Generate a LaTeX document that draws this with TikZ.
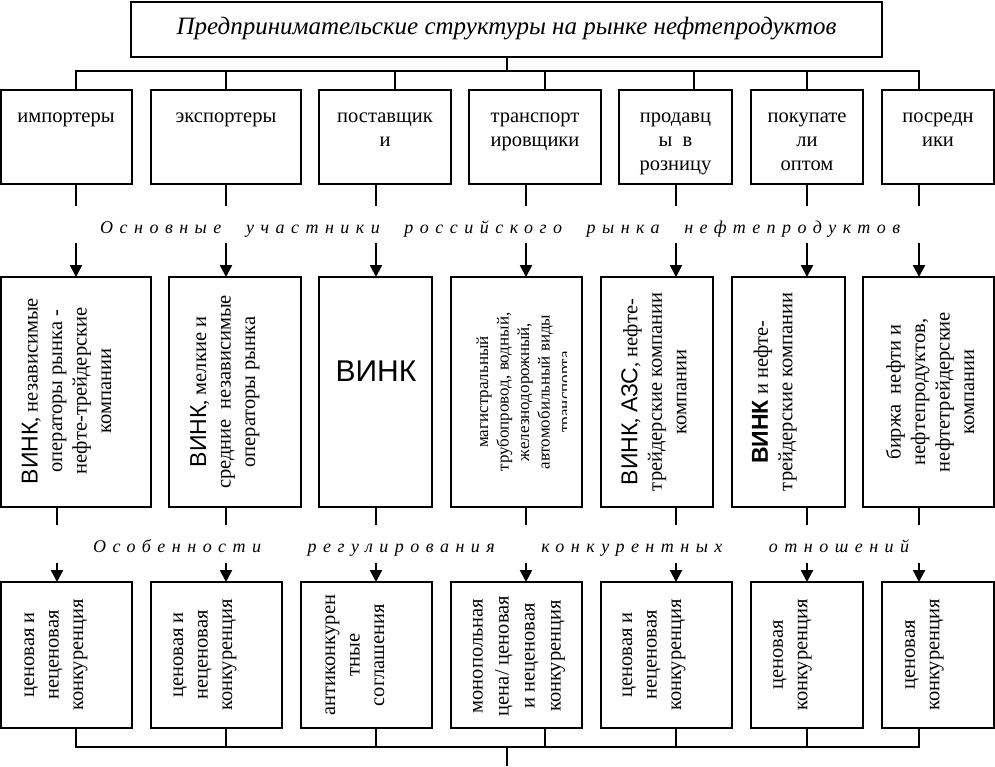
\documentclass[tikz,border=0pt]{standalone}
\usepackage{fontspec}
\setmainfont{Liberation Serif}
\newfontfamily\arialf{Liberation Sans}
\newfontfamily\spacedf{Liberation Serif}[LetterSpace=36]
\usetikzlibrary{arrows.meta}
\tikzset{
  box/.style={draw, line width=2.6pt, inner sep=0pt, outer sep=0pt},
  conn/.style={line width=2.5pt},
  arr/.style={conn, -{Triangle[width=12pt,length=12pt]}},
  txt/.style={inner sep=0pt, align=center, font=\fontsize{20.5}{24.5}\selectfont},
  toptxt/.style={inner sep=0pt, align=center, anchor=north, font=\fontsize{20.5}{24}\selectfont},
  rtxt/.style={txt, rotate=90},
  lbl/.style={inner sep=0pt, anchor=base west, font=\fontsize{18}{22}\selectfont\spacedf\itshape},
}
\newcommand{\vinkw}{{\arialf\fontsize{23}{24.5}\selectfont ВИНК}}
\newcommand{\tst}{\rule{0pt}{15pt}}
\begin{document}
\begin{tikzpicture}[x=1pt,y=-1pt]
\useasboundingbox (0,0) rectangle (995,766);
% title
\node[box, minimum width=751, minimum height=55] (title) at (506.5,29.5) {};
\node[inner sep=0pt, anchor=base, font=\fontsize{25}{29}\selectfont\itshape] (titletext) at (506.5,34) {Предпринимательские структуры на рынке нефтепродуктов};
% row 1
\node[box, minimum width=131, minimum height=94] (r1b1) at (66.5,137) {};
\node[box, minimum width=150, minimum height=94] (r1b2) at (226,137) {};
\node[box, minimum width=132, minimum height=94] (r1b3) at (385,137) {};
\node[box, minimum width=132, minimum height=94] (r1b4) at (535,137) {};
\node[box, minimum width=113, minimum height=94] (r1b5) at (675.5,137) {};
\node[box, minimum width=112, minimum height=94] (r1b6) at (807,137) {};
\node[box, minimum width=112, minimum height=94] (r1b7) at (938,137) {};
\node[toptxt] (r1t1) at (66,107) {\tst импортеры};
\node[toptxt] (r1t2) at (226,107) {\tst экспортеры};
\node[toptxt] (r1t3) at (385,107) {\tst поставщик\\и};
\node[toptxt] (r1t4) at (535,107) {\tst транспорт\\ировщики};
\node[toptxt] (r1t5) at (675.5,107) {\tst продавц\\ы\ \ в\\розницу};
\node[toptxt] (r1t6) at (807,107) {\tst покупате\\ли\\оптом};
\node[toptxt] (r1t7) at (938,107) {\tst посредн\\ики};
% row 2
\node[box, minimum width=150, minimum height=230] (r2b1) at (76,392) {};
\node[box, minimum width=132, minimum height=230] (r2b2) at (235,392) {};
\node[box, minimum width=113, minimum height=230] (r2b3) at (375.5,392) {};
\node[box, minimum width=131, minimum height=230] (r2b4) at (516.5,392) {};
\node[box, minimum width=112, minimum height=230] (r2b5) at (657,392) {};
\node[box, minimum width=113, minimum height=230] (r2b6) at (788.5,392) {};
\node[box, minimum width=131, minimum height=230] (r2b7) at (928.5,392) {};
\node[rtxt] (r2t1) at (66.5,391) {\vinkw, независимые\\операторы рынка -\\нефте-трейдерские\\компании};
\node[rtxt] (r2t2) at (225,392) {\vinkw, мелкие и\\средние\ \ независимые\\операторы рынка};
\node[inner sep=0pt, font=\arialf\fontsize{30}{34}\selectfont] (r2t3) at (376,371) {ВИНК};
\begin{scope}
\clip (451,277) rectangle (566,507);
\node[rtxt, font=\fontsize{17}{20.5}\selectfont] (r2t4) at (525,392) {магистральный\\трубопровод, водный,\\железнодорожный,\\автомобильный виды\\транспорта};
\end{scope}
\node[rtxt] (r2t5) at (654,392) {\vinkw, {\arialf\fontsize{23}{24.5}\selectfont АЗС}, нефте-\\трейдерские компании\\компании};
\node[rtxt] (r2t6) at (774.5,392) {{\arialf\bfseries\fontsize{23}{24.5}\selectfont ВИНК} и нефте-\\трейдерские компании};
\node[rtxt] (r2t7) at (930,392) {биржа\ \ нефти и\\нефтепродуктов,\\нефтетрейдерские\\компании};
% row 3
\node[box, minimum width=131, minimum height=146] (r3b1) at (66.5,655) {};
\node[box, minimum width=131, minimum height=146] (r3b2) at (216.5,655) {};
\node[box, minimum width=131, minimum height=146] (r3b3) at (366.5,655) {};
\node[box, minimum width=131, minimum height=146] (r3b4) at (516.5,655) {};
\node[box, minimum width=131, minimum height=146] (r3b5) at (666.5,655) {};
\node[box, minimum width=112, minimum height=146] (r3b6) at (807,655) {};
\node[box, minimum width=112, minimum height=146] (r3b7) at (938,655) {};
\node[rtxt] (r3t1) at (56,655) {ценовая и\\неценовая\\конкуренция};
\node[rtxt] (r3t2) at (205,655) {ценовая и\\неценовая\\конкуренция};
\node[rtxt] (r3t3) at (355,655) {антиконкурен\\тные\\соглашения};
\node[rtxt, font=\fontsize{20.5}{26}\selectfont] (r3t4) at (519,656) {монопольная\\цена/ ценовая\\и неценовая\\конкуренция};
\node[rtxt] (r3t5) at (654,655) {ценовая и\\неценовая\\конкуренция};
\node[rtxt] (r3t6) at (792.5,655) {ценовая\\конкуренция};
\node[rtxt] (r3t7) at (924.5,655) {ценовая\\конкуренция};
% labels
\node[lbl] (lab1) at (100,233) {\makebox[800pt][s]{Основные участники российского рынка нефтепродуктов}};
\node[lbl] (lab2) at (93,552) {\makebox[816pt][s]{Особенности регулирования конкурентных отношений}};
% top bus
\coordinate (d1) at (76,71);
\coordinate (d2) at (226,71);
\coordinate (d3) at (395,71);
\coordinate (d4) at (545,71);
\coordinate (d5) at (694,71);
\coordinate (d6) at (807,71);
\coordinate (d7) at (919,71);
\coordinate (dt) at (507,71);
\draw[conn] (title.south -| dt) -- (dt);
\draw[conn] (d1 |- r1b1.north) -- (d1) -- (d7) -- (d7 |- r1b7.north);
\draw[conn] (d2) -- (d2 |- r1b2.north);
\draw[conn] (d3) -- (d3 |- r1b3.north);
\draw[conn] (d4) -- (d4 |- r1b4.north);
\draw[conn] (d5) -- (d5 |- r1b5.north);
\draw[conn] (d6) -- (d6 |- r1b6.north);
% row1 -> row2
\foreach \i/\x in {1/76,2/226,3/376,4/526,5/676,6/807,7/919}{
  \coordinate (m\i) at (\x,206);
  \coordinate (n\i) at (\x,243);
  \draw[conn] (r1b\i.south -| m\i) -- (m\i);
  \draw[arr] (n\i) -- (n\i |- r2b\i.north);
}
% row2 -> row3
\foreach \i/\x in {1/57,2/226,3/376,4/526,5/676,6/807,7/919}{
  \coordinate (p\i) at (\x,525);
  \coordinate (q\i) at (\x,563);
  \draw[conn] (r2b\i.south -| p\i) -- (p\i);
  \draw[arr] (q\i) -- (q\i |- r3b\i.north);
}
% bottom bus
\coordinate (e1) at (76,747);
\coordinate (e2) at (226,747);
\coordinate (e3) at (376,747);
\coordinate (e4) at (545,747);
\coordinate (e5) at (676,747);
\coordinate (e6) at (807,747);
\coordinate (e7) at (919,747);
\coordinate (eout) at (507,766);
\draw[conn] (r3b1.south -| e1) -- (e1) -- (e7) -- (r3b7.south -| e7);
\draw[conn] (r3b2.south -| e2) -- (e2);
\draw[conn] (r3b3.south -| e3) -- (e3);
\draw[conn] (r3b4.south -| e4) -- (e4);
\draw[conn] (r3b5.south -| e5) -- (e5);
\draw[conn] (r3b6.south -| e6) -- (e6);
\draw[conn] (eout |- e1) -- (eout);
\end{tikzpicture}
\end{document}
